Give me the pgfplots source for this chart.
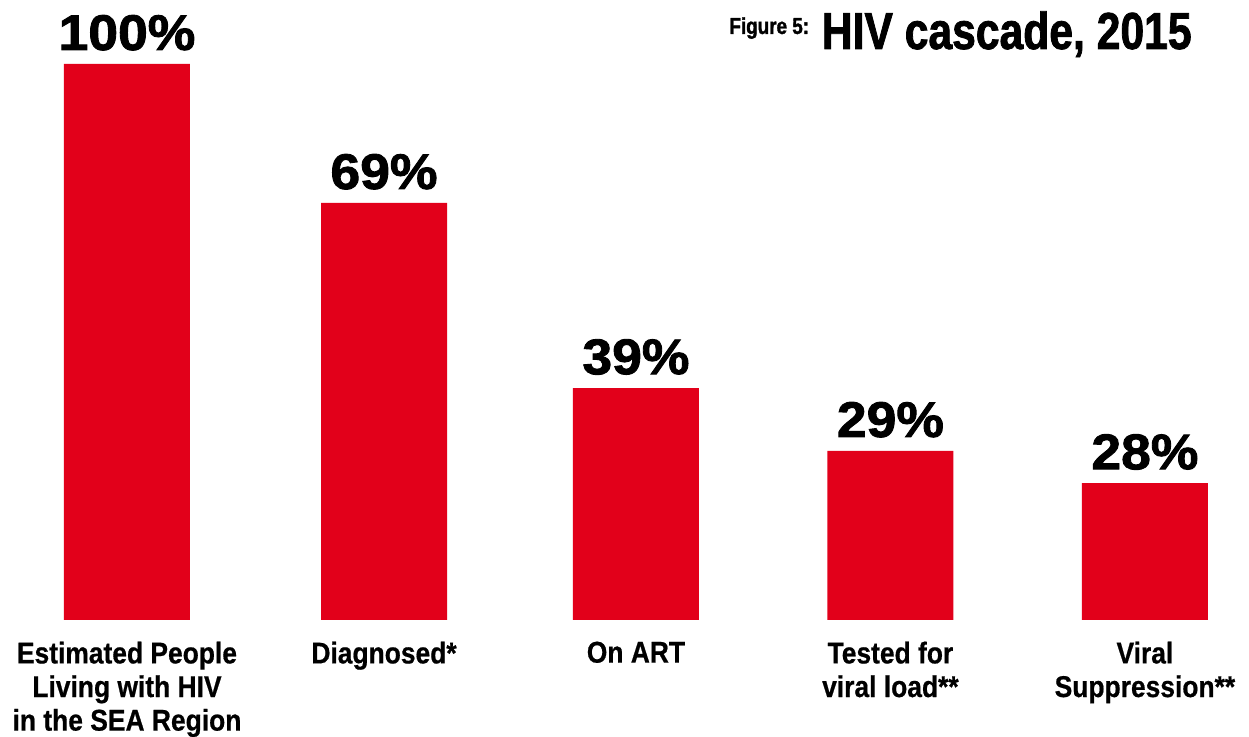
\documentclass[border=0pt]{standalone}
\usepackage{pgfplots}
\pgfplotsset{compat=1.18}
\usepackage{pgfplotstable}
\usepackage{fontspec}
\setmainfont{Liberation Sans}
\newfontfamily\labfont[FakeStretch=0.88,FakeBold=0.6]{Liberation Sans Bold}
\newfontfamily\pctfont[FakeStretch=1.07,FakeBold=1.8]{Liberation Sans Bold}
\newfontfamily\titfont[FakeStretch=0.82,FakeBold=1.5]{Liberation Sans Bold}
\definecolor{barred}{HTML}{E2001A}

% bar heights as drawn (the printed percentages are the labels)
\pgfplotstableread{
x     h     lab
0     100.0 100\%
1.01  75.0  69\%
2     41.7  39\%
3     30.4  29\%
4     24.6  28\%
}\cascade

\begin{document}
\begin{tikzpicture}
\begin{axis}[
    width=624.5pt, height=368.5pt, scale only axis,
    xmin=-0.499, xmax=4.409, ymin=-21.04, ymax=111.5,
    axis x line=middle, axis y line=none,
    axis line style={draw=none}, tick style={draw=none},
    ytick=\empty, xtick={0,1.01,2,3,4},
    xticklabels={{Estimated People\\Living with HIV\\in the SEA Region},
                 {Diagnosed*},{On ART},{Tested for\\viral load**},
                 {Viral\\Suppression**}},
    xticklabel style={anchor=north, align=center, inner sep=0pt, yshift=-8.5pt,
        font=\labfont\fontsize{15}{16.8}\selectfont},
    clip=false,
]
\addplot[ybar, bar width=63pt, fill=barred, draw=none,
    nodes near coords, point meta=explicit symbolic,
    nodes near coords style={anchor=base, inner sep=0pt, yshift=7pt,
        font=\pctfont\fontsize{25}{25}\selectfont, text=black}]
    table[x=x, y=h, meta=lab] {\cascade};
\node[anchor=base east, inner sep=0pt, font=\titfont\fontsize{26}{26}\selectfont]
    at (rel axis cs:0.9544,0.9335) {HIV cascade, 2015};
\node[anchor=base west, inner sep=0pt, font=\titfont\fontsize{11.5}{11.5}\selectfont]
    at (rel axis cs:0.5837,0.9539) {Figure 5:};
\end{axis}
\pgfresetboundingbox
\path[use as bounding box] (current axis.south west) rectangle (current axis.north east);
\end{tikzpicture}
\end{document}
